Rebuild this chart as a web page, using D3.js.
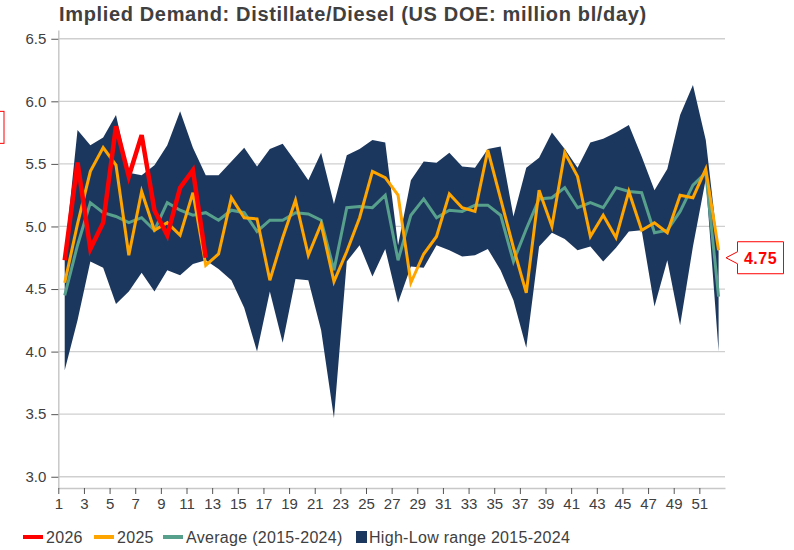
<!DOCTYPE html>
<html>
<head>
<meta charset="utf-8">
<script src="https://cdn.jsdelivr.net/npm/d3@7"></script>
<style>
  body { margin: 0; background: #fff; }
  text { font-family: "Liberation Sans", Arial, sans-serif; }
</style>
</head>
<body>
<div id="chart"></div>
<script>
var width = 794, height = 550;

// weekly data, weeks 1..52
var weeks = d3.range(1, 53);
var high = [4.78, 5.77, 5.65, 5.71, 5.89, 5.43, 5.41, 5.49, 5.65, 5.92, 5.63, 5.41, 5.41,
  5.52, 5.63, 5.48, 5.62, 5.66, 5.52, 5.37, 5.59, 5.18, 5.57, 5.62, 5.69, 5.67,
  4.85, 5.37, 5.52, 5.51, 5.59, 5.48, 5.47, 5.62, 5.64, 5.08, 5.47, 5.55, 5.75,
  5.62, 5.47, 5.67, 5.70, 5.75, 5.81, 5.56, 5.29, 5.46, 5.89, 6.13, 5.69, 4.80];
var low = [3.85, 4.25, 4.72, 4.67, 4.38, 4.48, 4.63, 4.48, 4.65, 4.61, 4.70, 4.73, 4.66,
  4.57, 4.35, 4.00, 4.48, 4.07, 4.58, 4.57, 4.17, 3.47, 4.72, 4.85, 4.60, 4.82,
  4.39, 4.68, 4.67, 4.85, 4.81, 4.76, 4.77, 4.82, 4.65, 4.41, 4.03, 4.84, 4.95,
  4.90, 4.81, 4.84, 4.72, 4.83, 4.96, 4.97, 4.36, 4.73, 4.21, 4.84, 5.38, 4.00];
var avg = [4.45, 4.85, 5.19, 5.11, 5.08, 5.03, 5.07, 4.97, 5.19, 5.13, 5.09, 5.11, 5.05,
  5.13, 5.11, 4.96, 5.05, 5.05, 5.11, 5.10, 5.05, 4.65, 5.15, 5.16, 5.15, 5.25,
  4.73, 5.09, 5.22, 5.07, 5.13, 5.12, 5.17, 5.17, 5.09, 4.72, 4.98, 5.22, 5.23,
  5.31, 5.15, 5.19, 5.15, 5.31, 5.28, 5.27, 4.95, 4.97, 5.12, 5.33, 5.43, 4.44];
var y2025 = [4.55, 5.02, 5.44, 5.63, 5.49, 4.77, 5.28, 4.97, 5.03, 4.93, 5.27, 4.69, 4.78,
  5.23, 5.07, 5.06, 4.57, 4.91, 5.21, 4.77, 5.02, 4.56, 4.80, 5.07, 5.44, 5.39,
  5.25, 4.55, 4.78, 4.92, 5.26, 5.15, 5.12, 5.61, 5.22, 4.83, 4.47, 5.29, 5.00,
  5.59, 5.40, 4.92, 5.09, 4.91, 5.28, 4.97, 5.03, 4.95, 5.25, 5.23, 5.46, 4.81];
var y2026 = [4.73, 5.51, 4.82, 5.03, 5.80, 5.40, 5.73, 5.13, 4.93, 5.31, 5.45, 4.75];

var yTicks = [3.0, 3.5, 4.0, 4.5, 5.0, 5.5, 6.0, 6.5];
var xTicks = d3.range(1, 53, 2);
var legendItems = ['2026', '2025', 'Average (2015-2024)', 'High-Low range 2015-2024'];

var cRed = '#ff0000', cOrange = '#ffa500', cTeal = '#57a08b', cNavy = '#1c375e';

var svg = d3.select('#chart')
  .append('svg')
  .attr('width', width)
  .attr('height', height);

var xScale = d3.scaleLinear().domain([1, 53]).range([58.3, 725]);
var yScale = d3.scaleLinear().domain([2.91, 6.57]).range([488, 30]);

// data sit in the middle of each week's slot
function px(i) { return xScale(weeks[i] + 0.5); }

// gridlines
svg.selectAll('.grid')
  .data(yTicks)
  .enter()
  .append('line')
  .attr('x1', xScale(1))
  .attr('x2', xScale(53))
  .attr('y1', function (d) { return yScale(d); })
  .attr('y2', function (d) { return yScale(d); })
  .attr('stroke', '#cfcfcf')
  .attr('stroke-width', 1.3);

// high-low band
var area = d3.area()
  .x(function (d, i) { return px(i); })
  .y0(function (d, i) { return yScale(low[i]); })
  .y1(function (d, i) { return yScale(high[i]); });

svg.append('path')
  .datum(weeks)
  .attr('d', area)
  .attr('fill', cNavy);

var line = d3.line()
  .x(function (d, i) { return px(i); })
  .y(function (d) { return yScale(d); });

svg.append('path').datum(avg).attr('d', line)
  .attr('fill', 'none').attr('stroke', cTeal).attr('stroke-width', 3);
svg.append('path').datum(y2025).attr('d', line)
  .attr('fill', 'none').attr('stroke', cOrange).attr('stroke-width', 3);
svg.append('path').datum(y2026).attr('d', line)
  .attr('fill', 'none').attr('stroke', cRed).attr('stroke-width', 4.5)
  .attr('stroke-linejoin', 'miter');

// axes
var yAxis = d3.axisLeft(yScale).tickValues(yTicks).tickFormat(d3.format('.1f'))
  .tickSize(7).tickSizeOuter(0).tickPadding(5);
var xAxis = d3.axisBottom(xScale).tickValues(xTicks).tickFormat(d3.format('d'))
  .tickSize(6).tickSizeOuter(0).tickPadding(4);

var yAxisG = svg.append('g')
  .attr('transform', 'translate(' + xScale(1) + ',0)')
  .call(yAxis);
var xAxisG = svg.append('g')
  .attr('transform', 'translate(0,' + yScale(2.91) + ')')
  .call(xAxis);

[yAxisG, xAxisG].forEach(function (g) {
  g.select('.domain').attr('stroke', '#c8c8c8').attr('stroke-width', 1.5);
  g.selectAll('.tick line').attr('stroke', '#555');
  g.selectAll('.tick text')
    .attr('fill', '#404040')
    .style('font-size', '15px')
    .style('font-family', '"Liberation Sans", Arial, sans-serif');
});

// title
svg.append('text')
  .attr('x', 59)
  .attr('y', 21)
  .attr('fill', '#404040')
  .style('font-size', '20px')
  .style('font-weight', 'bold')
  .style('letter-spacing', '0.65px')
  .text('Implied Demand: Distillate/Diesel (US DOE: million bl/day)');

// value label for the latest 2026 week
var lastV = y2026[y2026.length - 1];
var ly = yScale(lastV);
var tipX = 726, boxX = 737.5, boxW = 46, boxH = 32;
svg.append('path')
  .attr('d', 'M' + boxX + ',' + (ly - boxH / 2) + 'H' + (boxX + boxW) + 'V' + (ly + boxH / 2) +
    'H' + boxX + 'V' + (ly + 6) + 'L' + tipX + ',' + ly + 'L' + boxX + ',' + (ly - 6) + 'Z')
  .attr('fill', '#fff')
  .attr('stroke', cRed)
  .attr('stroke-width', 1);
svg.append('text')
  .attr('x', boxX + boxW / 2)
  .attr('y', ly + 6)
  .attr('text-anchor', 'middle')
  .attr('fill', cRed)
  .style('font-size', '16px')
  .style('font-weight', 'bold')
  .style('letter-spacing', '0.5px')
  .text(d3.format('.2f')(lastV));

// clipped label on the left edge (2026 peak)
var my = yScale(d3.max(y2026));
svg.append('rect')
  .attr('x', -50)
  .attr('y', my - 15)
  .attr('width', 54)
  .attr('height', 32)
  .attr('fill', '#fff')
  .attr('stroke', cRed)
  .attr('stroke-width', 1);

// legend
var legendX = [23, 94, 163, 356];
var legendC = [cRed, cOrange, cTeal, cNavy];
var lg = svg.selectAll('.legend')
  .data(legendItems)
  .enter()
  .append('g')
  .attr('transform', function (d, i) { return 'translate(' + legendX[i] + ',537)'; });

lg.append('rect')
  .attr('x', 0)
  .attr('y', function (d, i) { return i < 3 ? -2 : -6; })
  .attr('width', function (d, i) { return i < 3 ? 20 : 11; })
  .attr('height', function (d, i) { return i < 3 ? 4 : 12; })
  .attr('fill', function (d, i) { return legendC[i]; });

lg.append('text')
  .attr('x', function (d, i) { return i < 3 ? 23 : 13; })
  .attr('y', 6)
  .attr('fill', '#404040')
  .style('font-size', '16px')
  .style('letter-spacing', '0.3px')
  .text(function (d) { return d; });
</script>
</body>
</html>
